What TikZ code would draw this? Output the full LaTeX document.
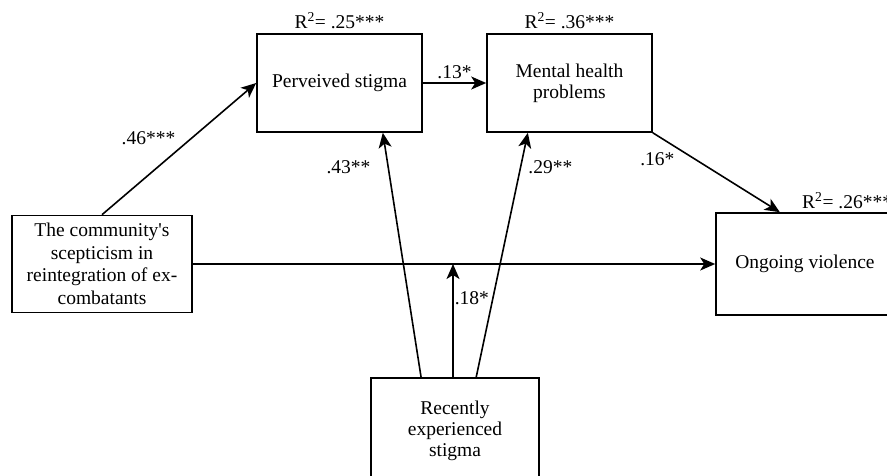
\documentclass[tikz,border=0pt]{standalone}
\usepackage{fontspec}
\setmainfont{Liberation Serif}
\usepackage{tikz}
\usetikzlibrary{positioning, calc, arrows.meta}

\begin{document}
\begin{tikzpicture}[
    x=1pt, y=-1pt,
    varbox/.style={rectangle, draw=black, line width=1.6pt, align=center,
                   inner sep=2pt, font=\fontsize{19.5}{21}\selectfont},
    arrow/.style={-{Stealth[length=15pt, width=13pt, inset=4pt]}, line width=1.6pt},
    coef/.style={font=\fontsize{19.5}{21}\selectfont, inner sep=3pt},
  ]
    \clip (0,0) rectangle (887,475);

    \node[varbox, minimum width=165pt, minimum height=98pt] (PS) at (339.5,83) {Perveived stigma};
    \node[varbox, minimum width=165pt, minimum height=98pt] (MH) at (569.5,83)
         {\strut Mental health\\problems};
    \node[varbox, minimum width=180pt, minimum height=97pt,
          font=\fontsize{19.5}{22.5}\selectfont] (CS) at (102,264)
         {The community\textquotesingle s\\scepticism in\\reintegration of ex-\\combatants};
    \node[varbox, minimum width=178pt, minimum height=102pt] (OV) at (805,264) {Ongoing violence};
    \node[varbox, minimum width=168pt, minimum height=106pt] (RS) at (455,431) {Recently\\experienced\\stigma};

    % explained variance
    \node[coef, above=1pt of PS.north] {R\textsuperscript{2}= .25***};
    \node[coef, above=1pt of MH.north] {R\textsuperscript{2}= .36***};
    \node[coef, anchor=south west] at ($(OV.north)+(-6,0)$) {R\textsuperscript{2}= .26***};

    % paths
    \draw[arrow] (CS.north) -- (PS.west)
          node[coef, midway, above left] {.46***};
    \draw[arrow] (PS.east) -- (MH.west)
          node[coef, midway, above] {.13*};
    \draw[arrow] (MH.south east) -- ($(OV.north west)!0.36!(OV.north east)$)
          node[coef, pos=0.2, below left] {.16*};
    \draw[arrow] (CS.east) -- (OV.west);
    \draw[arrow] ($(RS.north west)!0.3!(RS.north east)$) -- ($(PS.south west)!0.76!(PS.south east)$)
          node[coef, pos=0.86, left=14pt] {.43**};
    \draw[arrow] ($(RS.north west)!0.625!(RS.north east)$) -- ($(MH.south west)!0.25!(MH.south east)$)
          node[coef, pos=0.86, right=4pt] {.29**};
    \coordinate (mod) at ($(RS.north)+(-2,0)$);
    \draw[arrow] (mod) -- (mod |- CS.east)
          node[coef, pos=0.7, right, inner sep=1pt] {.18*};
  \end{tikzpicture}
\end{document}
